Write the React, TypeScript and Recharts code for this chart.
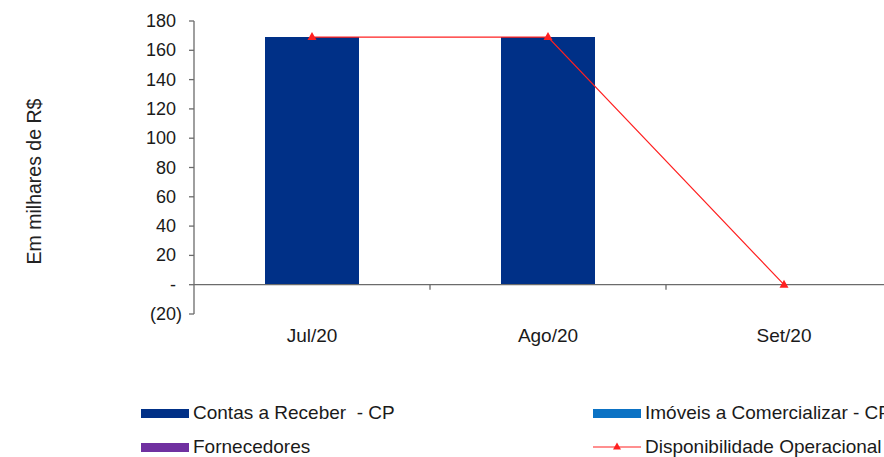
import React from "react";
import {
  ComposedChart,
  Bar,
  Line,
  XAxis,
  YAxis,
  ReferenceLine,
} from "recharts";

const months = ["Jul/20", "Ago/20", "Set/20"];
const contasReceber = [169, 169, 0];
const imoveisComercializar = [0, 0, 0];
const fornecedores = [0, 0, 0];
const disponibilidade = [169, 169, 0];
const yTicks = [-20, 0, 20, 40, 60, 80, 100, 120, 140, 160, 180];

const seriesInfo = [
  { key: "contas", name: "Contas a Receber  - CP", color: "#003087", kind: "bar" },
  { key: "imoveis", name: "Imóveis a Comercializar - CP", color: "#0B72C4", kind: "bar" },
  { key: "fornecedores", name: "Fornecedores", color: "#7030A0", kind: "bar" },
  { key: "disp", name: "Disponibilidade Operacional", color: "#FF2020", kind: "line" },
];

const data = months.map((m, i) => ({
  month: m,
  contas: contasReceber[i],
  imoveis: imoveisComercializar[i],
  fornecedores: fornecedores[i],
  disp: disponibilidade[i],
}));

const FONT = "'Liberation Sans', Arial, sans-serif";
const AXIS = "#6b6b6b";
const TEXT = "#1a1a1a";

// excel style: negatives in parentheses, zero as a dash, positives padded by a ")" width
const YTick = (props: any) => {
  const { x, y, payload } = props;
  const v = payload.value as number;
  const main = v < 0 ? `(${Math.abs(v)})` : v === 0 ? "-" : `${v}`;
  return (
    <text x={x} y={y} textAnchor="end" dominantBaseline="central" fontSize={18} fill={TEXT} fontFamily={FONT}>
      {main}
      {v >= 0 && <tspan fillOpacity={0}>)</tspan>}
    </text>
  );
};

const Triangle = (props: any) => {
  const { cx, cy, fill } = props;
  if (cx == null || cy == null) return null;
  return <path d={`M${cx},${cy - 5} L${cx + 4.5},${cy + 3} L${cx - 4.5},${cy + 3} Z`} fill={fill} />;
};

// zero line with the small category-boundary ticks hanging below it
const ZeroLine = (props: any) => {
  const { x1, y1, x2, y2 } = props;
  const step = (x2 - x1) / months.length;
  return (
    <g>
      <line x1={x1} y1={y1} x2={x2} y2={y2} stroke={AXIS} strokeWidth={1.3} />
      {months.slice(1).map((_, i) => (
        <line
          key={i}
          x1={x1 + step * (i + 1)}
          x2={x1 + step * (i + 1)}
          y1={y1}
          y2={y1 + 5}
          stroke={AXIS}
          strokeWidth={1.3}
        />
      ))}
    </g>
  );
};

const LegendItem = ({ s }: { s: (typeof seriesInfo)[number] }) => (
  <div style={{ display: "flex", alignItems: "center", height: 20 }}>
    {s.kind === "bar" ? (
      <div style={{ width: 48, height: 9, background: s.color, marginRight: 4 }} />
    ) : (
      <svg width={48} height={12} style={{ marginRight: 4 }}>
        <line x1={0} y1={6} x2={48} y2={6} stroke={s.color} strokeWidth={1.2} />
        <path d="M24,1.5 L28,8.5 L20,8.5 Z" fill={s.color} />
      </svg>
    )}
    <span style={{ whiteSpace: "pre" }}>{s.name}</span>
  </div>
);

export default function App() {
  return (
    <div
      style={{
        position: "absolute",
        left: 0,
        top: 0,
        width: 884,
        height: 457,
        overflow: "hidden",
        background: "#fff",
        fontFamily: FONT,
      }}
    >
      <ComposedChart
        width={920}
        height={457}
        data={data}
        margin={{ top: 21, right: 18, bottom: 113, left: 0 }}
      >
        <XAxis
          dataKey="month"
          axisLine={false}
          tickLine={false}
          tickMargin={9}
          height={30}
          tick={{ fontSize: 19, fill: TEXT, fontFamily: FONT }}
        />
        <YAxis
          width={194}
          domain={[-20, 180]}
          ticks={yTicks}
          interval={0}
          stroke={AXIS}
          axisLine={{ stroke: AXIS, strokeWidth: 1.3 }}
          tickLine={{ stroke: AXIS, strokeWidth: 1.3 }}
          tickSize={5}
          tickMargin={7}
          tick={<YTick />}
          label={{
            content: (p: any) => {
              const vb = p.viewBox;
              const cx = vb.x + 34;
              const cy = vb.y + vb.height / 2 + 14;
              return (
                <text
                  x={cx}
                  y={cy}
                  transform={`rotate(-90 ${cx} ${cy})`}
                  textAnchor="middle"
                  dominantBaseline="central"
                  fontSize={19.5}
                  fill="#222"
                  fontFamily={FONT}
                >
                  Em milhares de R$
                </text>
              );
            },
          }}
        />
        <Bar dataKey="contas" name={seriesInfo[0].name} stackId="a" fill={seriesInfo[0].color} barSize={94} isAnimationActive={false} />
        <Bar dataKey="imoveis" name={seriesInfo[1].name} stackId="a" fill={seriesInfo[1].color} barSize={94} isAnimationActive={false} />
        <Bar dataKey="fornecedores" name={seriesInfo[2].name} stackId="a" fill={seriesInfo[2].color} barSize={94} isAnimationActive={false} />
        <ReferenceLine y={0} shape={<ZeroLine />} />
        <Line
          type="linear"
          dataKey="disp"
          name={seriesInfo[3].name}
          stroke={seriesInfo[3].color}
          strokeWidth={1.2}
          dot={<Triangle fill={seriesInfo[3].color} />}
          activeDot={false}
          isAnimationActive={false}
        />
      </ComposedChart>
      <div style={{ position: "absolute", left: 141, top: 403, fontSize: 19, color: TEXT }}>
        <LegendItem s={seriesInfo[0]} />
      </div>
      <div style={{ position: "absolute", left: 593, top: 403, fontSize: 19, color: TEXT }}>
        <LegendItem s={seriesInfo[1]} />
      </div>
      <div style={{ position: "absolute", left: 141, top: 437, fontSize: 19, color: TEXT }}>
        <LegendItem s={seriesInfo[2]} />
      </div>
      <div style={{ position: "absolute", left: 593, top: 437, fontSize: 19, color: TEXT }}>
        <LegendItem s={seriesInfo[3]} />
      </div>
    </div>
  );
}
